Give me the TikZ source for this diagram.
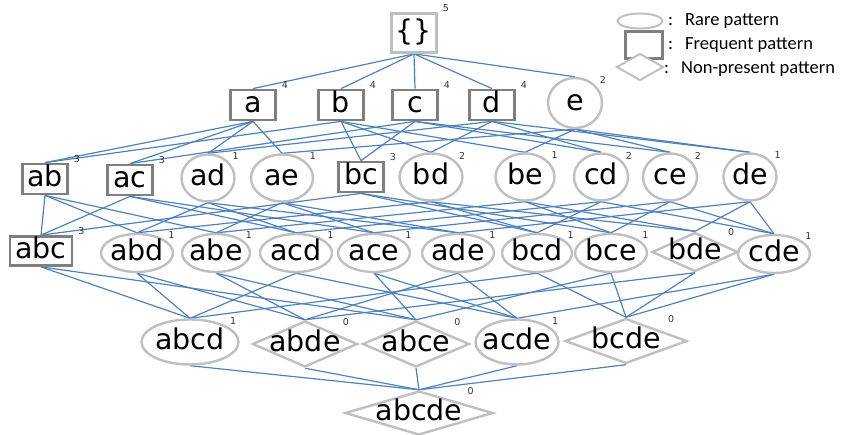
\documentclass[tikz,border=0pt]{standalone}
\usepackage{fontspec}
\setmainfont{DejaVu Sans}
\newfontfamily\keyfont{Carlito}
\usepackage{tikz}
\usetikzlibrary{shapes.geometric, backgrounds}
\definecolor{linkblue}{HTML}{4F81BD}
\definecolor{framedark}{HTML}{7F7F7F}
\definecolor{framelight}{HTML}{BFBFBF}
\tikzset{
  setfont/.style = {font=\fontsize{28.5}{28.5}\selectfont, text height=21pt, text depth=6pt},
  cnt/.style     = {font=\fontsize{9.5}{9.5}\selectfont, text=black!80, inner sep=0pt, anchor=center},
  freqbox/.style = {rectangle, draw=framedark, line width=2.8pt, fill=white, inner sep=0pt,
                    minimum width=45pt, minimum height=30pt, setfont},
  rareell/.style = {ellipse, draw=framelight, line width=2.4pt, fill=white,
                    inner xsep=-40pt, inner ysep=-15pt,
                    minimum width=56pt, minimum height=47pt, setfont},
  nonedia/.style = {diamond, draw=framelight, line width=2.4pt, fill=white,
                    inner xsep=-40pt, inner ysep=-15pt,
                    minimum width=86pt, minimum height=39pt, setfont},
  freq/.style    = {freqbox, label={[cnt, xshift=8pt, yshift=4pt]north east:#1}},
  rare/.style    = {rareell, label={[cnt, xshift=8pt, yshift=4pt]north east:#1}},
  absent/.style  = {nonedia, label={[cnt, xshift=14pt, yshift=10pt]north east:#1}},
  keytext/.style = {anchor=west, inner sep=0pt, font=\keyfont\fontsize{18.5}{18.5}\selectfont},
  link/.style    = {draw=linkblue, line width=1.2pt},
}

\begin{document}
\begin{tikzpicture}[x=1pt, y=-1pt]
  \useasboundingbox (0,0) rectangle (844,435);

  % legend
  \node[rareell, minimum width=45pt, minimum height=15pt, line width=2pt] (keyrare) at (640,21) {};
  \node[keytext] (keyraretxt) at (668,21) {:\hspace{12pt}Rare pattern};
  \node[freqbox, minimum width=37pt, minimum height=14pt, line width=2.4pt] (keyfreq) at (644,45) {};
  \node[keytext] (keyfreqtxt) at (668,45) {:\hspace{12pt}Frequent pattern};
  \node[nonedia, minimum width=47pt, minimum height=27pt, line width=2pt] (keynone) at (640,67) {};
  \node[keytext] (keynonetxt) at (664,69) {:\hspace{12pt}Non-present pattern};

  % level 0 and 1
  \node[freq=5, draw=framelight, minimum height=39pt] (root) at (414,33) {\{\}};
  \node[freq=4] (a) at (253,105) {a};
  \node[freq=4] (b) at (341,105) {b};
  \node[freq=4] (c) at (415,105) {c};
  \node[freq=4] (d) at (492,105) {d};
  \node[rare=2, minimum width=54pt, minimum height=50pt] (e) at (575,103) {e};

  % level 2
  \node[freq=3] (ab) at (45,179) {ab};
  \node[freq=3] (ac) at (130,180) {ac};
  \node[rare=1, minimum width=53pt] (ad) at (208,178) {ad};
  \node[rare=1, minimum width=62pt] (ae) at (282,178) {ae};
  \node[freq=3] (bc) at (361,177) {bc};
  \node[rare=2, minimum width=63pt] (bd) at (431,177) {bd};
  \node[rare=1, minimum width=59pt] (be) at (525,177) {be};
  \node[rare=2, minimum width=54pt] (cd) at (601,177) {cd};
  \node[rare=2, minimum width=54pt] (ce) at (670,177) {ce};
  \node[rare=1, minimum width=53pt] (de) at (750,177) {de};

  % level 3
  \node[freq=3, minimum width=62pt, minimum height=29pt] (abc) at (41,251) {abc};
  \node[rare=1, minimum width=72pt, minimum height=38pt] (abd) at (137,253) {abd};
  \node[rare=1, minimum width=68pt, minimum height=38pt] (abe) at (216,253) {abe};
  \node[rare=1, minimum width=72pt, minimum height=38pt] (acd) at (296,253) {acd};
  \node[rare=1, minimum width=72pt, minimum height=38pt] (ace) at (374,253) {ace};
  \node[rare=1, minimum width=72pt, minimum height=38pt] (ade) at (458,253) {ade};
  \node[rare=1, minimum width=70pt, minimum height=38pt] (bcd) at (537,253) {bcd};
  \node[rare=1, minimum width=72pt, minimum height=38pt] (bce) at (611,253) {bce};
  \node[absent=0] (bde) at (695,252) {bde};
  \node[rare=1, minimum width=72pt, minimum height=38pt] (cde) at (774,254) {cde};

  % level 4 and 5
  \node[rare=1, minimum width=97pt, minimum height=45pt] (abcd) at (190,342) {abcd};
  \node[absent=0, minimum width=105pt, minimum height=46pt] (abde) at (305,344) {abde};
  \node[absent=0, minimum width=107pt, minimum height=46pt] (abce) at (416,344) {abce};
  \node[rare=1, minimum width=83pt, minimum height=45pt] (acde) at (517,342) {acde};
  \node[absent=0, minimum width=122pt, minimum height=45pt] (bcde) at (626,341) {bcde};
  \node[absent=0, minimum width=148pt, minimum height=44pt] (abcde) at (419,413) {abcde};

  \begin{scope}[on background layer]
    \foreach \u/\v in {root/a, root/b, root/c, root/d, root/e,
        a/ab, a/ac, a/ad, a/ae, b/ab, b/bc, b/bd, b/be,
        c/ac, c/bc, c/cd, c/ce, d/ad, d/bd, d/cd, d/de,
        e/ae, e/be, e/ce, e/de,
        ab/abc, ab/abd, ab/abe, ac/abc, ac/acd, ac/ace,
        ad/abd, ad/acd, ad/ade, ae/abe, ae/ace, ae/ade,
        bc/abc, bc/bcd, bc/bce, bd/abd, bd/bcd, bd/bde,
        be/abe, be/bce, be/bde, cd/acd, cd/bcd, cd/cde,
        ce/ace, ce/bce, ce/cde, de/ade, de/bde, de/cde,
        abc/abcd, abc/abce, abd/abcd, abd/abde, abe/abde, abe/abce,
        acd/abcd, acd/acde, ace/abce, ace/acde, ade/abde, ade/acde,
        bcd/abcd, bcd/bcde, bce/abce, bce/bcde, bde/abde, bde/bcde,
        cde/acde, cde/bcde,
        abcd/abcde, abde/abcde, abce/abcde, acde/abcde, bcde/abcde}
      \draw[link] (\u.south) -- (\v.north);
  \end{scope}
\end{tikzpicture}
\end{document}
